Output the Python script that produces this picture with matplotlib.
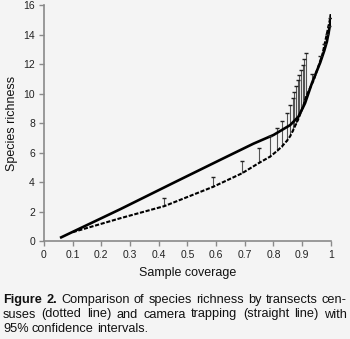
import numpy as np
import matplotlib
matplotlib.use('Agg')
import matplotlib.pyplot as plt

plt.rcParams['font.family'] = ['Liberation Sans', 'DejaVu Sans']

# Transect censuses (dotted line) with upper 95% CI where a bar is drawn
transect_cov = [0.10, 0.265, 0.42, 0.59, 0.69, 0.75, 0.788, 0.812, 0.829, 0.847,
                0.858, 0.867, 0.873, 0.879, 0.885, 0.890, 0.896, 0.902, 0.907,
                0.914, 0.94, 0.97, 1.0]
transect_rich = [0.6, 1.54, 2.37, 3.68, 4.59, 5.3, 5.72, 6.1, 6.4, 6.8,
                 7.1, 7.45, 7.7, 7.95, 8.2, 8.45, 8.75, 9.05, 9.35,
                 9.8, 10.9, 12.6, 15.3]
transect_upper = [np.nan, np.nan, 2.94, 4.36, 5.42, 6.28, 7.1, 7.64, 8.16, 8.70,
                  9.22, 9.67, 10.12, 10.51, 10.92, 11.25, 11.59, 11.93, 12.32,
                  12.73, np.nan, np.nan, np.nan]

# Camera trapping (straight line)
camera_cov = [0.06, 0.265, 0.457, 0.614, 0.73, 0.8, 0.858, 0.887, 0.91,
              0.934, 0.963, 0.977, 0.986, 0.992, 0.998, 1.0]
camera_rich = [0.25, 2.15, 4.0, 5.5, 6.6, 7.19, 7.86, 8.43, 9.34,
               10.7, 12.1, 12.9, 13.5, 14.1, 14.75, 15.3]
camera_upper = [np.nan, np.nan, np.nan, np.nan, np.nan, np.nan, np.nan, np.nan, np.nan,
                11.3, 12.55, 13.35, 14.05, 14.6, 15.1, np.nan]

x_ticks = [0, 0.1, 0.2, 0.3, 0.4, 0.5, 0.6, 0.7, 0.8, 0.9, 1]
x_ticklabels = ['0', '0.1', '0.2', '0.3', '0.4', '0.5', '0.6', '0.7', '0.8', '0.9', '1']
y_ticks = [0, 2, 4, 6, 8, 10, 12, 14, 16]

caption_lines = [
    [('Figure 2.', 'bold'), ('Comparison of species richness by transects cen-', 'normal')],
    [('suses (dotted line) and camera trapping (straight line) with', 'normal')],
    [('95% confidence intervals.', 'normal')],
]

bg = '#f4f4f4'
fig = plt.figure(figsize=(3.5, 3.39), dpi=100, facecolor=bg)
ax = fig.add_axes([0.1257, 0.289, 0.8195, 0.696], facecolor=bg)

def draw_series(cov, rich, upper, ls, lw):
    cov = np.array(cov); rich = np.array(rich); upper = np.array(upper)
    ax.plot(cov, rich, color='black', linestyle=ls, linewidth=lw, zorder=3)
    m = ~np.isnan(upper)
    ax.vlines(cov[m], rich[m], upper[m], color='#555555', linewidth=0.8, zorder=2)
    ax.scatter(cov[m], upper[m], marker='_', s=12, color='#222222', linewidths=1.0, zorder=4)

draw_series(transect_cov, transect_rich, transect_upper, (0, (2, 0.8)), 1.5)
draw_series(camera_cov, camera_rich, camera_upper, '-', 1.9)

ax.set_xlim(0, 1)
ax.set_ylim(0, 16)
ax.set_xticks(x_ticks)
ax.set_xticklabels(x_ticklabels)
ax.set_yticks(y_ticks)
for s in ['top', 'right']:
    ax.spines[s].set_visible(False)
for s in ['left', 'bottom']:
    ax.spines[s].set_color('#8a8a8a')
    ax.spines[s].set_linewidth(1.2)
ax.tick_params(direction='out', length=3.5, width=1, color='#8a8a8a',
               labelsize=7.5, labelcolor='#222222', pad=3)
ax.set_xlabel('Sample coverage', fontsize=9, color='#111111', labelpad=5)
ax.set_ylabel('Species richness', fontsize=9, color='#111111', labelpad=4)

# Caption, justified across the figure width
fig.canvas.draw()
renderer = fig.canvas.get_renderer()
left_px, right_px = 3, 347
line_y = [300, 314.5, 328.5]
W, H = fig.bbox.width, fig.bbox.height
for i, parts in enumerate(caption_lines):
    words = []
    for text, weight in parts:
        for w in text.split(' '):
            words.append((w, weight))
    texts = []
    for w, weight in words:
        t = fig.text(0, 1 - line_y[i] / H, w, fontsize=9.2, fontweight=weight,
                     color='#111111', va='center', ha='left')
        texts.append(t)
    widths = [t.get_window_extent(renderer).width for t in texts]
    justify = i < len(caption_lines) - 1
    if justify:
        gap = (right_px - left_px - sum(widths)) / (len(words) - 1)
    else:
        gap = 3.3
    x = left_px
    for t, wdt in zip(texts, widths):
        t.set_x(x / W)
        x += wdt + gap

fig.savefig('out.png', dpi=100, facecolor=bg)
